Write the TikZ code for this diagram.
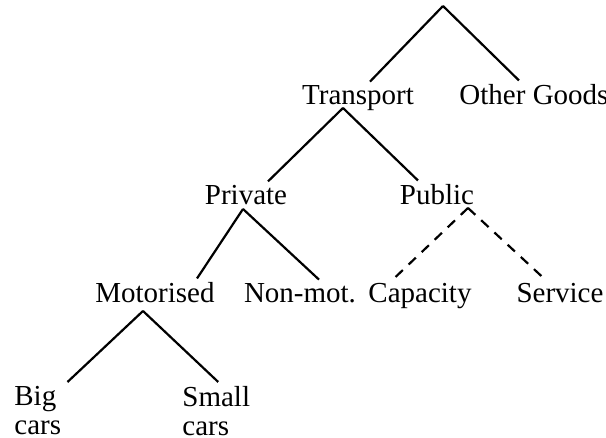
\documentclass[tikz,border=0pt]{standalone}
\usepackage{fontspec}
\setmainfont{Liberation Serif}
\usetikzlibrary{positioning}

\begin{document}
\begin{tikzpicture}[x=0.5pt, y=-0.5pt,
  lbl/.style={inner sep=2pt, font=\fontsize{14.5}{14.5}\selectfont},
  branch/.style={line width=1.1pt},
  option/.style={branch, dash pattern=on 5pt off 4pt}]
  \useasboundingbox (0,0) rectangle (606,438);

  % labels of the tree
  \node[lbl, anchor=base] (transport) at (358,105) {Transport};
  \node[lbl, anchor=base] (other) at (534,105) {Other Goods};
  \node[lbl, anchor=base] (private) at (246,205) {Private};
  \node[lbl, anchor=base] (public) at (437,205) {Public};
  \node[lbl, anchor=base] (motor) at (155,303) {Motorised};
  \node[lbl, anchor=base] (nonmot) at (300,303) {Non-mot.};
  \node[lbl, anchor=base] (capacity) at (420,303) {Capacity};
  \node[lbl, anchor=base] (service) at (560,303) {Service};
  \node[lbl, anchor=north west, align=left] (big) at (10,382) {Big\\cars};
  \node[lbl, anchor=north west, align=left] (small) at (178,382) {Small\\cars};

  % forks
  \coordinate (root) at (443,6);
  \coordinate (transport-fork) at (343,108);
  \coordinate (private-fork) at (243,209);
  \coordinate (public-fork) at (468,208);
  \coordinate (motor-fork) at (143,311);

  % branches
  \draw[branch] (root) -- ([xshift=6pt]transport.north);
  \draw[branch] (root) -- ([xshift=-7.5pt]other.north);
  \draw[branch] (transport-fork) -- ([xshift=11pt]private.north);
  \draw[branch] (transport-fork) -- ([xshift=-9.5pt]public.north);
  \draw[branch] (private-fork) -- ([xshift=21pt]motor.north);
  \draw[branch] (private-fork) -- ([xshift=9.5pt]nonmot.north);
  \draw[option] (public-fork) -- ([xshift=-13.5pt]capacity.north);
  \draw[option] (public-fork) -- ([xshift=-7.5pt]service.north);
  \draw[branch] (motor-fork) -- ([xshift=1pt]big.north east);
  \draw[branch] (motor-fork) -- ([xshift=1pt]small.north);
\end{tikzpicture}
\end{document}
